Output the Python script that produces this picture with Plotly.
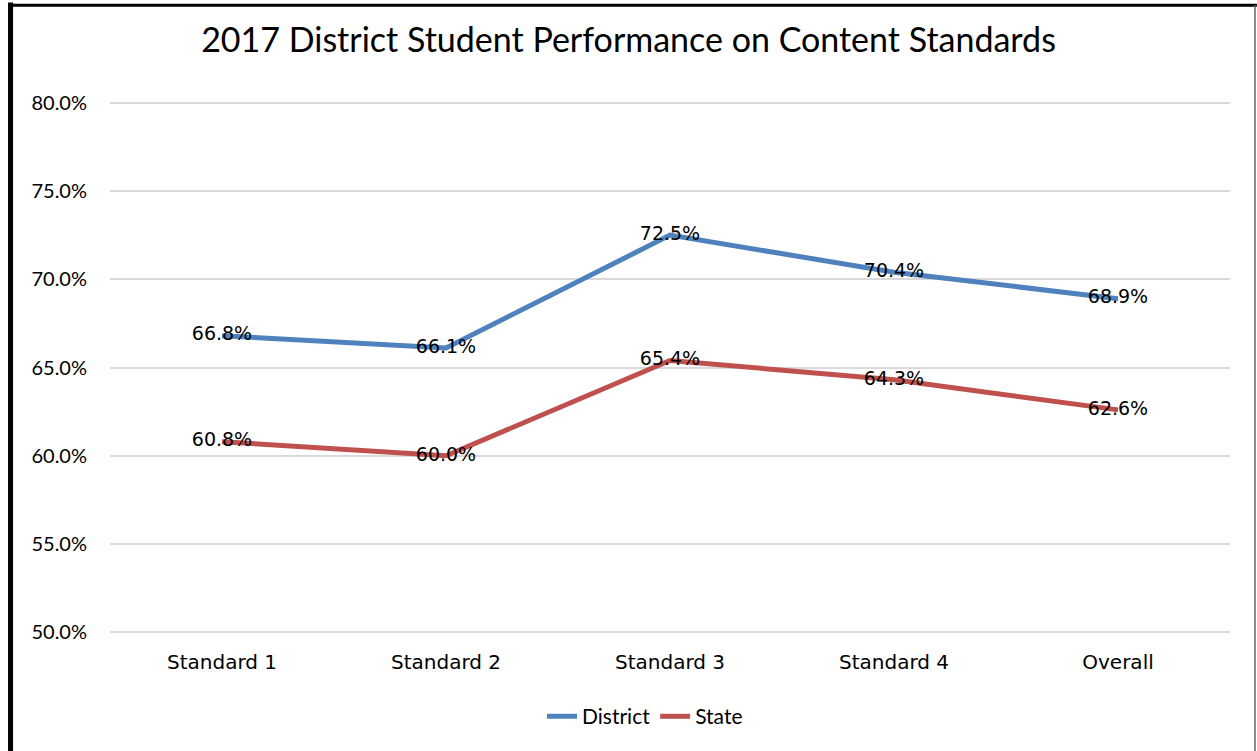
import plotly.graph_objects as go

categories = ["Standard 1", "Standard 2", "Standard 3", "Standard 4", "Overall"]
district = [66.8, 66.1, 72.5, 70.4, 68.9]
state = [60.8, 60.0, 65.4, 64.3, 62.6]
y_ticks = [50, 55, 60, 65, 70, 75, 80]
y_tick_text = [f"{v:.1f}%" for v in y_ticks]

fig = go.Figure()
for name, vals, color in [("District", district, "#4f81bd"), ("State", state, "#c0504d")]:
    fig.add_trace(go.Scatter(
        x=categories, y=vals, name=name, mode="lines+text",
        line=dict(color=color, width=5),
        text=[f"{v:.1f}%" for v in vals], textposition="middle center",
        textfont=dict(family="DejaVu Sans", size=19, color="#000000"),
        cliponaxis=False,
    ))

# plot area: x 110..1230, y(80%)=103 .. y(50%)=632 in page pixels
fig.update_layout(
    width=1257, height=751,
    paper_bgcolor="white", plot_bgcolor="white",
    margin=dict(l=110, r=27, t=101, b=117),
    title=dict(text="2017 District Student Performance on Content Standards",
               x=0.5, xanchor="center", y=0.9467, yanchor="middle",
               font=dict(family="Lato", size=34, color="#000000")),
    showlegend=True,
    legend=dict(orientation="h", x=0.4777, xanchor="center", y=-0.155, yanchor="middle",
                font=dict(family="Lato", size=21, color="#000000")),
    xaxis=dict(type="category", range=[-0.5, 4.5], showgrid=False, showline=False,
               ticks="", tickfont=dict(family="DejaVu Sans", size=20, color="#000000"),
               ticklabelstandoff=14),
    yaxis=dict(range=[49.9, 80.1], tickvals=y_ticks, ticktext=y_tick_text,
               showgrid=True, gridcolor="#d9d9d9", gridwidth=1.5, zeroline=False,
               showline=False, ticks="",
               tickfont=dict(family="Lato", size=20, color="#000000"),
               ticklabelstandoff=22),
    shapes=[
        dict(type="line", xref="paper", yref="paper", x0=-0.0911, x1=1.024,
             y0=1.1795, y1=1.1795, line=dict(color="#000000", width=3)),
        dict(type="line", xref="paper", yref="paper", x0=-0.0888, x1=-0.0888,
             y0=1.185, y1=-0.3, line=dict(color="#000000", width=5)),
        dict(type="line", xref="paper", yref="paper", x0=1.0223, x1=1.0223,
             y0=1.1795, y1=-0.3, line=dict(color="#666666", width=1.5)),
    ],
)

fig.write_html("out.html", config={"displayModeBar": False},
               post_script="document.body.style.margin='0';")
